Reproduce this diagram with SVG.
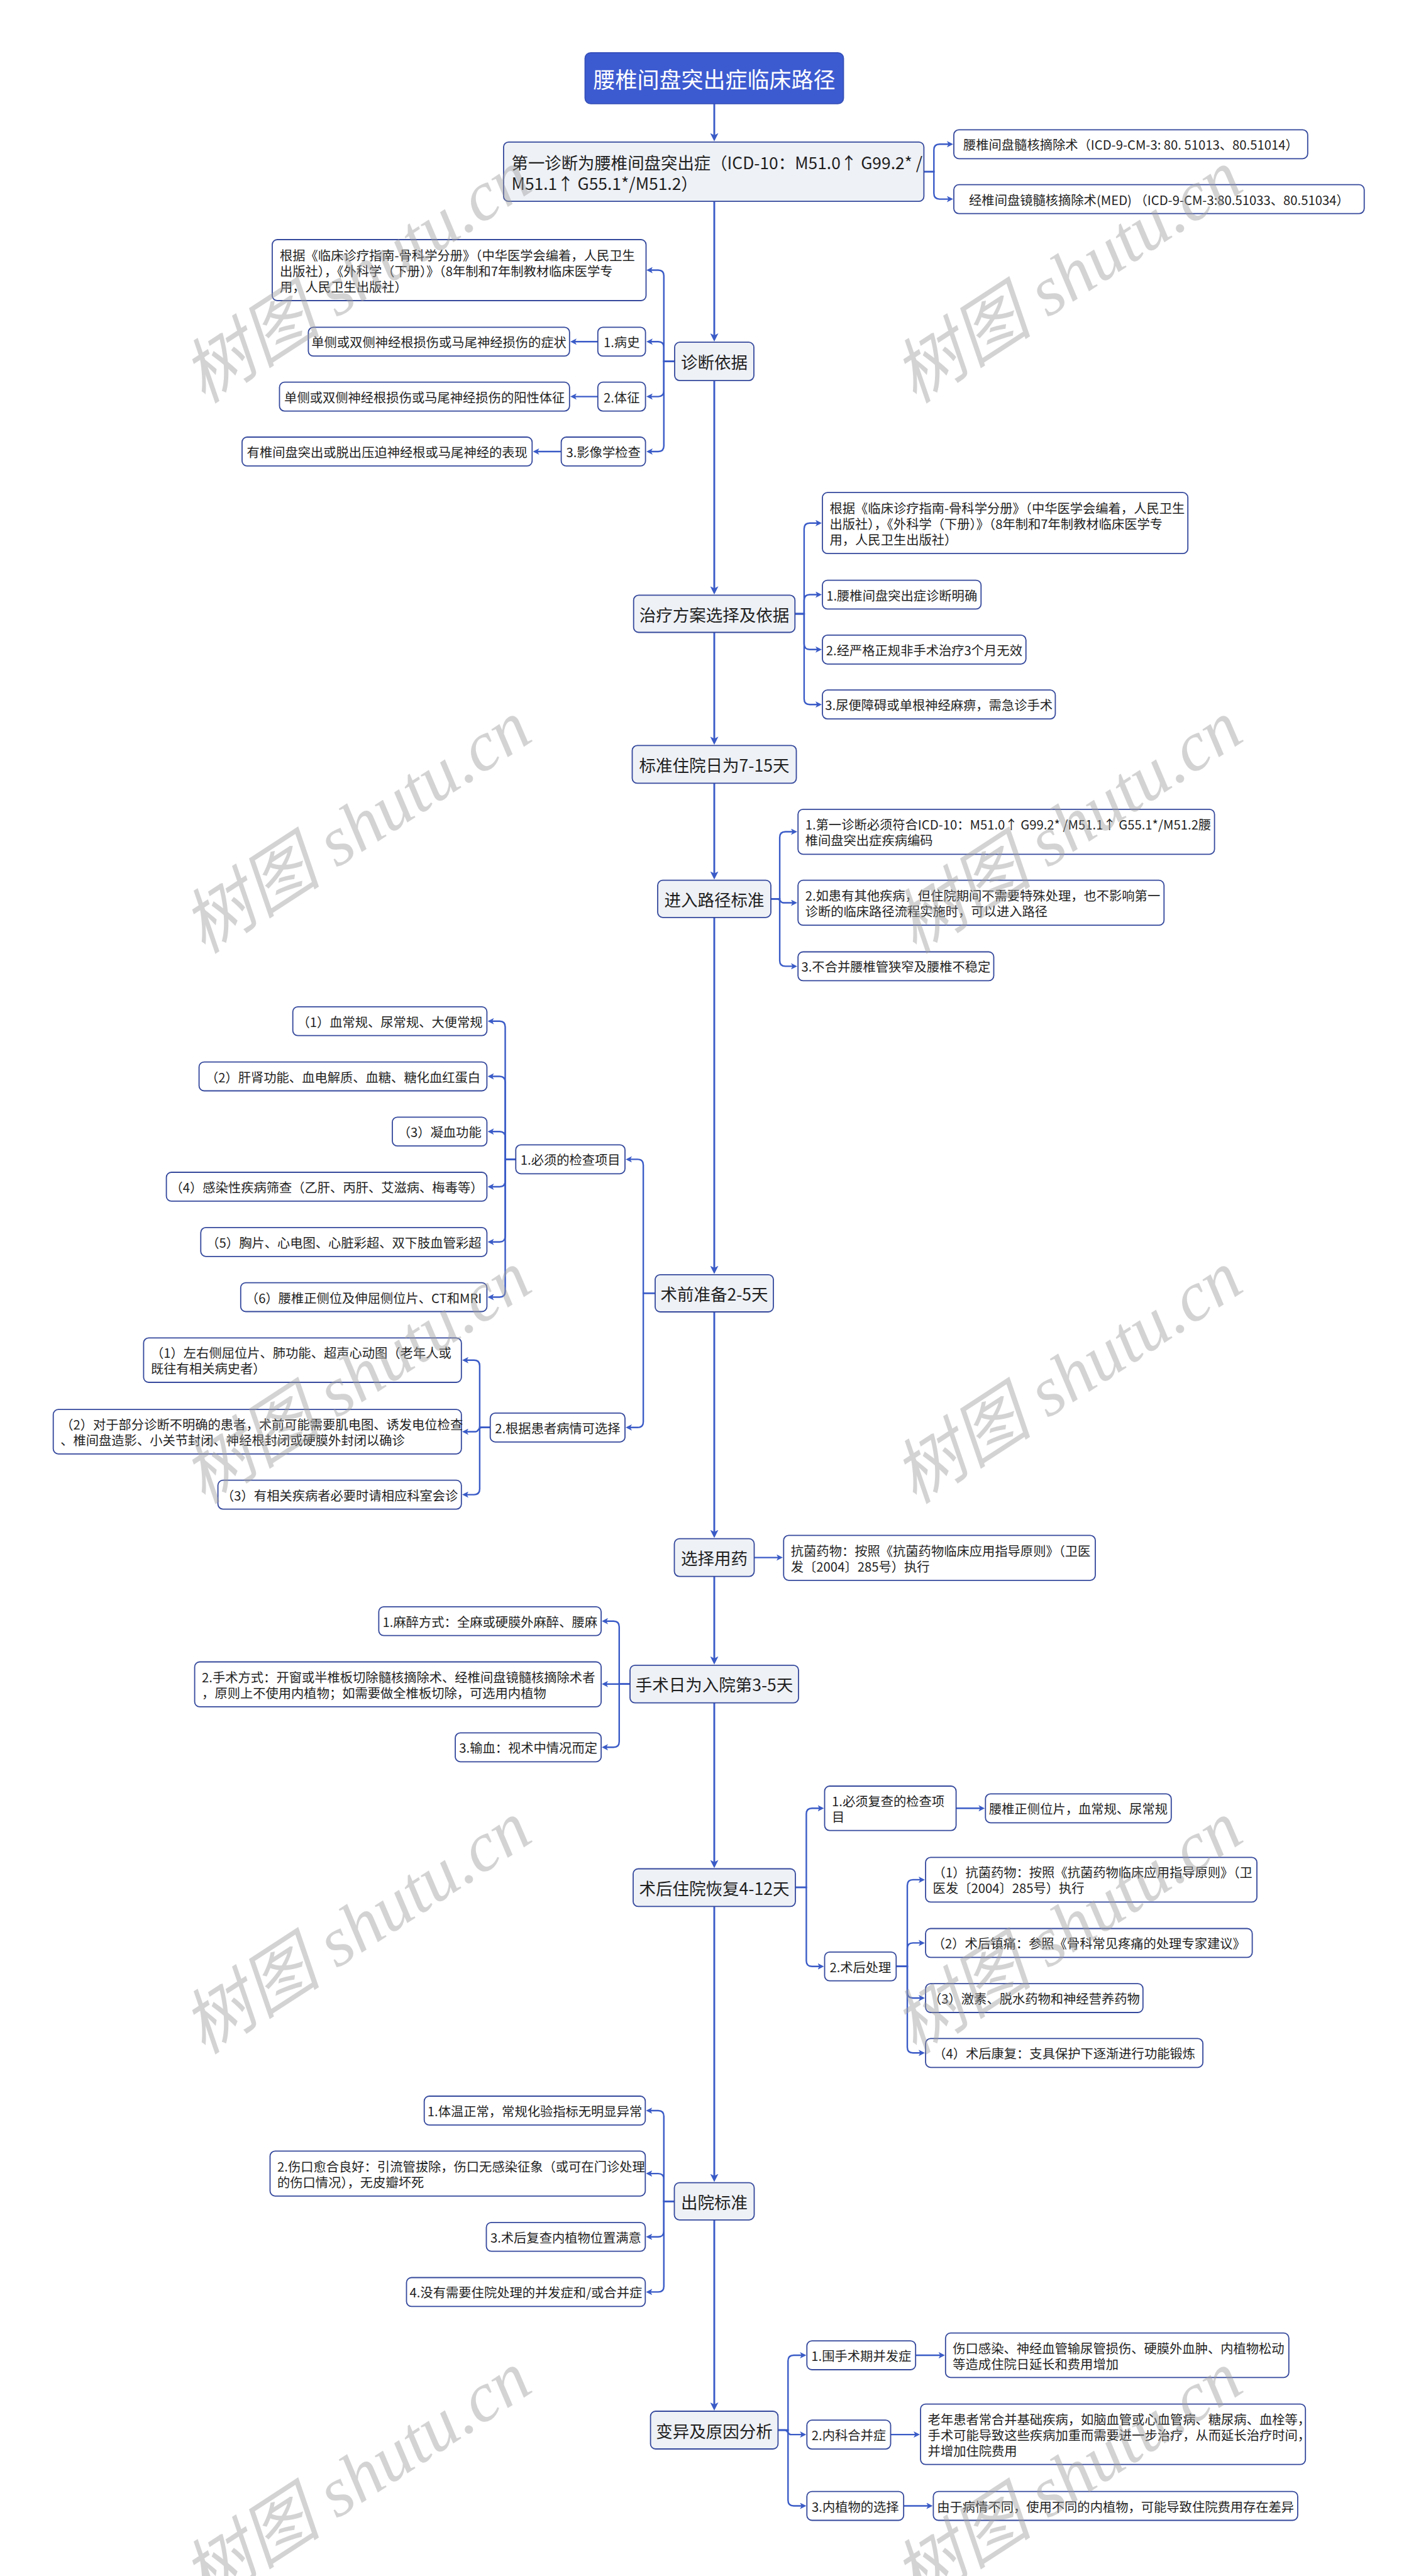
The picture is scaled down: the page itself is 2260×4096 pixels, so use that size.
<svg xmlns="http://www.w3.org/2000/svg" width="2260" height="4096" viewBox="0 0 2260 4096">
<defs>
<marker id="a" viewBox="0 0 10 10" refX="7" refY="5" markerWidth="10" markerHeight="10" markerUnits="userSpaceOnUse" orient="auto"><path d="M0,0 L10,5 L0,10 L2.5,5 z" fill="#3A5BC7"/></marker>
<marker id="am" viewBox="0 0 10 10" refX="7" refY="5" markerWidth="13" markerHeight="13" markerUnits="userSpaceOnUse" orient="auto"><path d="M0,0 L10,5 L0,10 L2.5,5 z" fill="#3A5BC7"/></marker>
</defs>
<style>
text{font-family:"Noto Sans CJK SC","Noto Sans",sans-serif;fill:#1F1F1F;dominant-baseline:central}
.n rect{fill:#FFFFFF;stroke:#34489C;stroke-width:1.8}
.m rect{fill:#EEF1F6;stroke:#34489C;stroke-width:1.8}
.n text{font-size:20.3px}
.m text{font-size:26.5px;text-anchor:middle}
.c{text-anchor:middle}
#connectors path{fill:none;stroke:#3A5BC7;stroke-width:2.4;marker-end:url(#a)}
#connectors path.sp{stroke-width:2.9;marker-end:url(#am)}
.wm text{font-family:"Liberation Serif","Noto Sans CJK SC",serif;font-style:italic;font-size:112px;fill:#A0A0A0;opacity:0.45;text-anchor:middle}
</style>
<rect x="0" y="0" width="2260" height="4096" fill="#FFFFFF"/>

<g id="connectors">
<path class="sp" d="M1136,164.9 V220.8"/>
<path class="sp" d="M1136,320.2 V539.2"/>
<path class="sp" d="M1136,605.1 V941.4"/>
<path class="sp" d="M1136,1005.5 V1180.4"/>
<path class="sp" d="M1136,1245.4 V1394.7"/>
<path class="sp" d="M1136,1458.8 V2021.8"/>
<path class="sp" d="M1136,2086 V2441.7"/>
<path class="sp" d="M1136,2506.6 V2642.8"/>
<path class="sp" d="M1136,2707.7 V2966.5"/>
<path class="sp" d="M1136,3031.4 V3465.7"/>
<path class="sp" d="M1136,3529.8 V3829"/>

<path d="M1469.4,273 H1485.3 V238.3 Q1485.3,229.3 1494.3,229.3 H1513"/>
<path d="M1469.4,273 H1485.3 V307.6 Q1485.3,316.6 1494.3,316.6 H1513"/>

<path d="M1073,574.6 H1055.8 V438.5 Q1055.8,429.5 1046.8,429.5 H1031"/>
<path d="M1073,574.6 H1055.8 V552.3 Q1055.8,543.3 1046.8,543.3 H1031"/>
<path d="M1073,574.6 H1055.8 V621.6 Q1055.8,630.6 1046.8,630.6 H1031"/>
<path d="M1073,574.6 H1055.8 V709 Q1055.8,718 1046.8,718 H1031"/>
<path d="M950.8,543.3 H910"/>
<path d="M950.8,630.6 H910"/>
<path d="M892.6,718 H850.5"/>

<path d="M1264.3,976 H1278.9 V840.7 Q1278.9,831.7 1287.9,831.7 H1304"/>
<path d="M1264.3,976 H1278.9 V954.5 Q1278.9,945.5 1287.9,945.5 H1304"/>
<path d="M1264.3,976 H1278.9 V1023.8 Q1278.9,1032.8 1287.9,1032.8 H1304"/>
<path d="M1264.3,976 H1278.9 V1111.2 Q1278.9,1120.2 1287.9,1120.2 H1304"/>

<path d="M1226,1429.3 H1240.1 V1331.5 Q1240.1,1322.5 1249.1,1322.5 H1265"/>
<path d="M1226,1429.3 H1236 C1242,1429.3 1240,1435.5 1246,1435.5 H1265"/>
<path d="M1226,1429.3 H1240.1 V1527.4 Q1240.1,1536.4 1249.1,1536.4 H1265"/>

<path d="M1042,2056.4 H1023.1 V1852.4 Q1023.1,1843.4 1014.1,1843.4 H998"/>
<path d="M1042,2056.4 H1023.1 V2260.8 Q1023.1,2269.8 1014.1,2269.8 H998"/>
<path d="M820.3,1843.4 H803.5 V1632.8 Q803.5,1623.8 794.5,1623.8 H778.5"/>
<path d="M820.3,1843.4 H803.5 V1720.5 Q803.5,1711.5 794.5,1711.5 H778.5"/>
<path d="M820.3,1843.4 H803.5 V1808.3 Q803.5,1799.3 794.5,1799.3 H778.5"/>
<path d="M820.3,1843.4 H803.5 V1878 Q803.5,1887 794.5,1887 H778.5"/>
<path d="M820.3,1843.4 H803.5 V1965.8 Q803.5,1974.8 794.5,1974.8 H778.5"/>
<path d="M820.3,1843.4 H803.5 V2053.5 Q803.5,2062.5 794.5,2062.5 H778.5"/>
<path d="M779.7,2269.8 H762.9 V2171.7 Q762.9,2162.7 753.9,2162.7 H738"/>
<path d="M779.7,2269.8 H766 C760,2269.8 762,2276.5 756,2276.5 H738"/>
<path d="M779.7,2269.8 H762.9 V2367.6 Q762.9,2376.6 753.9,2376.6 H738"/>

<path d="M1199.5,2476.6 H1242"/>

<path d="M1002,2677.7 H984.8 V2586.7 Q984.8,2577.7 975.8,2577.7 H960"/>
<path d="M1002,2677.7 H960"/>
<path d="M1002,2677.7 H984.8 V2769.3 Q984.8,2778.3 975.8,2778.3 H960"/>

<path d="M1264.8,3001 H1282.4 V2884.3 Q1282.4,2875.3 1291.4,2875.3 H1307.5"/>
<path d="M1264.8,3001 H1282.4 V3117.7 Q1282.4,3126.7 1291.4,3126.7 H1307.5"/>
<path d="M1520.6,2875.3 H1563.3"/>
<path d="M1425.3,3126.7 H1443 V2997.9 Q1443,2988.9 1452,2988.9 H1468"/>
<path d="M1425.3,3126.7 H1443 V3098.4 Q1443,3089.4 1452,3089.4 H1468"/>
<path d="M1425.3,3126.7 H1443 V3168 Q1443,3177 1452,3177 H1468"/>
<path d="M1425.3,3126.7 H1443 V3255.3 Q1443,3264.3 1452,3264.3 H1468"/>

<path d="M1072.5,3500.3 H1055.8 V3365 Q1055.8,3356 1046.8,3356 H1030.3"/>
<path d="M1072.5,3500.3 H1055.8 V3465.1 Q1055.8,3456.1 1046.8,3456.1 H1030.3"/>
<path d="M1072.5,3500.3 H1055.8 V3547.7 Q1055.8,3556.7 1046.8,3556.7 H1030.3"/>
<path d="M1072.5,3500.3 H1055.8 V3635.4 Q1055.8,3644.4 1046.8,3644.4 H1030.3"/>

<path d="M1237.4,3864 H1253.3 V3754 Q1253.3,3745 1262.3,3745 H1279.3"/>
<path d="M1237.4,3864 H1248 C1254,3864 1252,3871.1 1258,3871.1 H1279.3"/>
<path d="M1237.4,3864 H1253.3 V3975.5 Q1253.3,3984.5 1262.3,3984.5 H1279.3"/>
<path d="M1456.2,3745 H1499.8"/>
<path d="M1416.5,3871.1 H1460"/>
<path d="M1437.2,3984.5 H1480.4"/>
</g>

<g id="title"><rect x="930.5" y="83.8" width="411" height="81.1" rx="9" fill="#3D5BD1" stroke="#3550B8" stroke-width="1.8"/><text x="1136" y="124.4" style="font-size:35px;fill:#FFFFFF;text-anchor:middle">腰椎间盘突出症临床路径</text></g>

<g id="first-diagnosis" class="m"><rect x="800.9" y="225.8" width="668.5" height="94.4" rx="8"/><text style="text-anchor:start;font-size:26.4px"><tspan x="813.5" y="257.3">第一诊断为腰椎间盘突出症（ICD-10：M51.0↑ G99.2* /</tspan><tspan x="813.5" y="289.6">M51.1↑ G55.1*/M51.2）</tspan></text></g>
<g id="r1" class="n"><rect x="1517" y="206.4" width="562.8" height="45.9" rx="8"/><text class="c" x="1798.4" y="229.3">腰椎间盘髓核摘除术（ICD-9-CM-3: 80. 51013、80.51014）</text></g>
<g id="r2" class="n"><rect x="1517" y="293.7" width="652.7" height="45.9" rx="8"/><text class="c" x="1843.4" y="316.6">经椎间盘镜髓核摘除术(MED) （ICD-9-CM-3:80.51033、80.51034）</text></g>

<g id="diagnosis-basis" class="m"><rect x="1073" y="544.2" width="126" height="60.9" rx="8"/><text x="1136" y="574.6">诊断依据</text></g>
<g id="dx-ref" class="n"><rect x="433" y="381" width="594.5" height="97" rx="8"/><text><tspan x="445" y="404.5">根据《临床诊疗指南-骨科学分册》（中华医学会编着，人民卫生</tspan><tspan x="445" y="429.5">出版社），《外科学（下册）》（8年制和7年制教材临床医学专</tspan><tspan x="445" y="454.5">用，人民卫生出版社）</tspan></text></g>
<g id="dx-history" class="n"><rect x="950.8" y="520.4" width="75.8" height="45.8" rx="8"/><text class="c" x="988.7" y="543.3">1.病史</text></g>
<g id="dx-history-c" class="n"><rect x="490.4" y="520.4" width="415.4" height="45.8" rx="8"/><text class="c" x="698.1" y="543.3">单侧或双侧神经根损伤或马尾神经损伤的症状</text></g>
<g id="dx-sign" class="n"><rect x="950.8" y="607.7" width="75.8" height="45.9" rx="8"/><text class="c" x="988.7" y="630.6">2.体征</text></g>
<g id="dx-sign-c" class="n"><rect x="444.5" y="607.7" width="461.3" height="45.9" rx="8"/><text class="c" x="675.2" y="630.6">单侧或双侧神经根损伤或马尾神经损伤的阳性体征</text></g>
<g id="dx-img" class="n"><rect x="892.6" y="695" width="134" height="45.9" rx="8"/><text class="c" x="959.6" y="718">3.影像学检查</text></g>
<g id="dx-img-c" class="n"><rect x="385" y="695" width="461.3" height="45.9" rx="8"/><text class="c" x="615.7" y="718">有椎间盘突出或脱出压迫神经根或马尾神经的表现</text></g>

<g id="treatment" class="m"><rect x="1007.7" y="946.4" width="256.6" height="59.1" rx="8"/><text x="1136" y="976">治疗方案选择及依据</text></g>
<g id="tr-ref" class="n"><rect x="1308" y="783.2" width="581.2" height="97" rx="8"/><text><tspan x="1319.5" y="806.7">根据《临床诊疗指南-骨科学分册》（中华医学会编着，人民卫生</tspan><tspan x="1319.5" y="831.7">出版社），《外科学（下册）》（8年制和7年制教材临床医学专</tspan><tspan x="1319.5" y="856.7">用，人民卫生出版社）</tspan></text></g>
<g id="tr-1" class="n"><rect x="1308" y="922.6" width="252.3" height="45.8" rx="8"/><text class="c" x="1434.2" y="945.5">1.腰椎间盘突出症诊断明确</text></g>
<g id="tr-2" class="n"><rect x="1308" y="1009.9" width="323.7" height="45.9" rx="8"/><text class="c" x="1469.9" y="1032.8">2.经严格正规非手术治疗3个月无效</text></g>
<g id="tr-3" class="n"><rect x="1308" y="1097.2" width="370.4" height="45.9" rx="8"/><text class="c" x="1493.2" y="1120.2">3.尿便障碍或单根神经麻痹，需急诊手术</text></g>

<g id="standard-stay" class="m"><rect x="1005.5" y="1185.4" width="261" height="60" rx="8"/><text x="1136" y="1215.4">标准住院日为7-15天</text></g>

<g id="entry" class="m"><rect x="1046" y="1399.7" width="180" height="59.1" rx="8"/><text x="1136" y="1429.3">进入路径标准</text></g>
<g id="en-1" class="n"><rect x="1269.2" y="1286.8" width="662.4" height="71.5" rx="8"/><text><tspan x="1280.7" y="1310">1.第一诊断必须符合ICD-10：M51.0↑ G99.2* /M51.1↑ G55.1*/M51.2腰</tspan><tspan x="1280.7" y="1335">椎间盘突出症疾病编码</tspan></text></g>
<g id="en-2" class="n"><rect x="1269.2" y="1399.7" width="582.1" height="71.5" rx="8"/><text><tspan x="1280.7" y="1423">2.如患有其他疾病，但住院期间不需要特殊处理，也不影响第一</tspan><tspan x="1280.7" y="1448">诊断的临床路径流程实施时，可以进入路径</tspan></text></g>
<g id="en-3" class="n"><rect x="1269.2" y="1513.5" width="311.3" height="45.9" rx="8"/><text class="c" x="1424.9" y="1536.4">3.不合并腰椎管狭窄及腰椎不稳定</text></g>

<g id="preop" class="m"><rect x="1042" y="2026.8" width="188" height="59.2" rx="8"/><text x="1136" y="2056.4">术前准备2-5天</text></g>
<g id="pre-1" class="n"><rect x="820.3" y="1820.4" width="173.7" height="45.9" rx="8"/><text class="c" x="907.2" y="1843.4">1.必须的检查项目</text></g>
<g id="pre-1a" class="n"><rect x="465.7" y="1600.8" width="308.7" height="45.9" rx="8"/><text class="c" x="620" y="1623.8">（1）血常规、尿常规、大便常规</text></g>
<g id="pre-1b" class="n"><rect x="316.6" y="1688.6" width="457.8" height="45.9" rx="8"/><text class="c" x="545.5" y="1711.5">（2）肝肾功能、血电解质、血糖、糖化血红蛋白</text></g>
<g id="pre-1c" class="n"><rect x="624" y="1776.3" width="150.4" height="45.9" rx="8"/><text class="c" x="699.2" y="1799.3">（3）凝血功能</text></g>
<g id="pre-1d" class="n"><rect x="264.6" y="1864" width="509.8" height="45.9" rx="8"/><text class="c" x="519.5" y="1887">（4）感染性疾病筛查（乙肝、丙肝、艾滋病、梅毒等）</text></g>
<g id="pre-1e" class="n"><rect x="319.3" y="1951.9" width="455.1" height="45.9" rx="8"/><text class="c" x="546.9" y="1974.8">（5）胸片、心电图、心脏彩超、双下肢血管彩超</text></g>
<g id="pre-1f" class="n"><rect x="382.8" y="2039.6" width="391.6" height="45.9" rx="8"/><text class="c" x="578.6" y="2062.5">（6）腰椎正侧位及伸屈侧位片、CT和MRI</text></g>
<g id="pre-2" class="n"><rect x="779.7" y="2246.9" width="214.3" height="45.9" rx="8"/><text class="c" x="886.9" y="2269.8">2.根据患者病情可选择</text></g>
<g id="pre-2a" class="n"><rect x="228.4" y="2127.4" width="505.4" height="70.6" rx="8"/><text><tspan x="240" y="2150.2">（1）左右侧屈位片、肺功能、超声心动图（老年人或</tspan><tspan x="240" y="2175.2">既往有相关病史者）</tspan></text></g>
<g id="pre-2b" class="n"><rect x="84.7" y="2241.2" width="649.1" height="70.6" rx="8"/><text><tspan x="96.2" y="2264">（2）对于部分诊断不明确的患者，术前可能需要肌电图、诱发电位检查</tspan><tspan x="96.2" y="2289">、椎间盘造影、小关节封闭、神经根封闭或硬膜外封闭以确诊</tspan></text></g>
<g id="pre-2c" class="n"><rect x="346.6" y="2353.7" width="387.2" height="45.9" rx="8"/><text class="c" x="540.2" y="2376.6">（3）有相关疾病者必要时请相应科室会诊</text></g>

<g id="medication" class="m"><rect x="1072.5" y="2446.7" width="127" height="59.9" rx="8"/><text x="1136" y="2476.6">选择用药</text></g>
<g id="med-1" class="n"><rect x="1246.3" y="2441.4" width="495.7" height="71.4" rx="8"/><text><tspan x="1257.8" y="2464.6">抗菌药物：按照《抗菌药物临床应用指导原则》（卫医</tspan><tspan x="1257.8" y="2489.6">发〔2004〕285号）执行</tspan></text></g>

<g id="surgery-day" class="m"><rect x="1002" y="2647.8" width="268" height="59.9" rx="8"/><text x="1136" y="2677.7">手术日为入院第3-5天</text></g>
<g id="sd-1" class="n"><rect x="602.4" y="2554.8" width="353.7" height="45.9" rx="8"/><text class="c" x="779.3" y="2577.7">1.麻醉方式：全麻或硬膜外麻醉、腰麻</text></g>
<g id="sd-2" class="n"><rect x="309.6" y="2642.5" width="646.5" height="71.4" rx="8"/><text><tspan x="321.1" y="2665.7">2.手术方式：开窗或半椎板切除髓核摘除术、经椎间盘镜髓核摘除术者</tspan><tspan x="321.1" y="2690.7">，原则上不使用内植物；如需要做全椎板切除，可选用内植物</tspan></text></g>
<g id="sd-3" class="n"><rect x="724.1" y="2755.4" width="232" height="45.9" rx="8"/><text class="c" x="840.1" y="2778.3">3.输血：视术中情况而定</text></g>

<g id="postop" class="m"><rect x="1007" y="2971.5" width="258" height="59.9" rx="8"/><text x="1136" y="3001.4">术后住院恢复4-12天</text></g>
<g id="po-1" class="n"><rect x="1311.5" y="2840" width="209.1" height="70.6" rx="8"/><text><tspan x="1323" y="2862.8">1.必须复查的检查项</tspan><tspan x="1323" y="2887.8">目</tspan></text></g>
<g id="po-1c" class="n"><rect x="1567.3" y="2852.4" width="295.5" height="45.9" rx="8"/><text class="c" x="1715" y="2875.3">腰椎正侧位片，血常规、尿常规</text></g>
<g id="po-2" class="n"><rect x="1311.5" y="3103.8" width="113.8" height="45.9" rx="8"/><text class="c" x="1368.4" y="3126.7">2.术后处理</text></g>
<g id="po-2a" class="n"><rect x="1472.1" y="2953.4" width="526.9" height="71" rx="8"/><text><tspan x="1483.6" y="2976.4">（1）抗菌药物：按照《抗菌药物临床应用指导原则》（卫</tspan><tspan x="1483.6" y="3001.4">医发〔2004〕285号）执行</tspan></text></g>
<g id="po-2b" class="n"><rect x="1472.1" y="3066.5" width="519.5" height="45.9" rx="8"/><text class="c" x="1731.8" y="3089.4">（2）术后镇痛：参照《骨科常见疼痛的处理专家建议》</text></g>
<g id="po-2c" class="n"><rect x="1472.1" y="3154.1" width="345.7" height="45.9" rx="8"/><text class="c" x="1644.9" y="3177">（3）激素、脱水药物和神经营养药物</text></g>
<g id="po-2d" class="n"><rect x="1472.1" y="3241.4" width="441" height="45.9" rx="8"/><text class="c" x="1692.6" y="3264.3">（4）术后康复：支具保护下逐渐进行功能锻炼</text></g>

<g id="discharge" class="m"><rect x="1072.5" y="3470.7" width="127" height="59.1" rx="8"/><text x="1136" y="3500.3">出院标准</text></g>
<g id="dc-1" class="n"><rect x="674.7" y="3333" width="351.6" height="45.9" rx="8"/><text class="c" x="850.5" y="3356">1.体温正常，常规化验指标无明显异常</text></g>
<g id="dc-2" class="n"><rect x="429.5" y="3420.4" width="596.8" height="71.4" rx="8"/><text><tspan x="441" y="3443.6">2.伤口愈合良好：引流管拔除，伤口无感染征象（或可在门诊处理</tspan><tspan x="441" y="3468.6">的伤口情况），无皮瓣坏死</tspan></text></g>
<g id="dc-3" class="n"><rect x="773.5" y="3533.8" width="252.8" height="45.9" rx="8"/><text class="c" x="899.9" y="3556.7">3.术后复查内植物位置满意</text></g>
<g id="dc-4" class="n"><rect x="646.5" y="3621.5" width="379.8" height="45.9" rx="8"/><text class="c" x="836.4" y="3644.4">4.没有需要住院处理的并发症和/或合并症</text></g>

<g id="variation" class="m"><rect x="1034.6" y="3834" width="202.8" height="60" rx="8"/><text x="1136" y="3864">变异及原因分析</text></g>
<g id="va-1" class="n"><rect x="1283.3" y="3722.1" width="172.9" height="45.9" rx="8"/><text class="c" x="1369.8" y="3745">1.围手术期并发症</text></g>
<g id="va-1c" class="n"><rect x="1503.8" y="3709.7" width="546" height="70.6" rx="8"/><text><tspan x="1515.3" y="3732.5">伤口感染、神经血管输尿管损伤、硬膜外血肿、内植物松动</tspan><tspan x="1515.3" y="3757.5">等造成住院日延长和费用增加</tspan></text></g>
<g id="va-2" class="n"><rect x="1283.3" y="3848.2" width="133.2" height="45.9" rx="8"/><text class="c" x="1349.9" y="3871.1">2.内科合并症</text></g>
<g id="va-2c" class="n"><rect x="1464.1" y="3822.6" width="612.1" height="96.1" rx="8"/><text><tspan x="1475.6" y="3845.7">老年患者常合并基础疾病，如脑血管或心血管病、糖尿病、血栓等，</tspan><tspan x="1475.6" y="3870.7">手术可能导致这些疾病加重而需要进一步治疗，从而延长治疗时间，</tspan><tspan x="1475.6" y="3895.7">并增加住院费用</tspan></text></g>
<g id="va-3" class="n"><rect x="1283.3" y="3961.6" width="153.9" height="45.9" rx="8"/><text class="c" x="1360.3" y="3984.5">3.内植物的选择</text></g>
<g id="va-3c" class="n"><rect x="1484.4" y="3961.6" width="579.5" height="45.9" rx="8"/><text class="c" x="1774.2" y="3984.5">由于病情不同，使用不同的内植物，可能导致住院费用存在差异</text></g>

<g class="wm">
<text transform="translate(567,440) rotate(-33)">树图 shutu.cn</text>
<text transform="translate(1698,440) rotate(-33)">树图 shutu.cn</text>
<text transform="translate(567,1315) rotate(-33)">树图 shutu.cn</text>
<text transform="translate(1698,1315) rotate(-33)">树图 shutu.cn</text>
<text transform="translate(567,2190) rotate(-33)">树图 shutu.cn</text>
<text transform="translate(1698,2190) rotate(-33)">树图 shutu.cn</text>
<text transform="translate(567,3065) rotate(-33)">树图 shutu.cn</text>
<text transform="translate(1698,3065) rotate(-33)">树图 shutu.cn</text>
<text transform="translate(567,3940) rotate(-33)">树图 shutu.cn</text>
<text transform="translate(1698,3940) rotate(-33)">树图 shutu.cn</text>
</g>
</svg>
